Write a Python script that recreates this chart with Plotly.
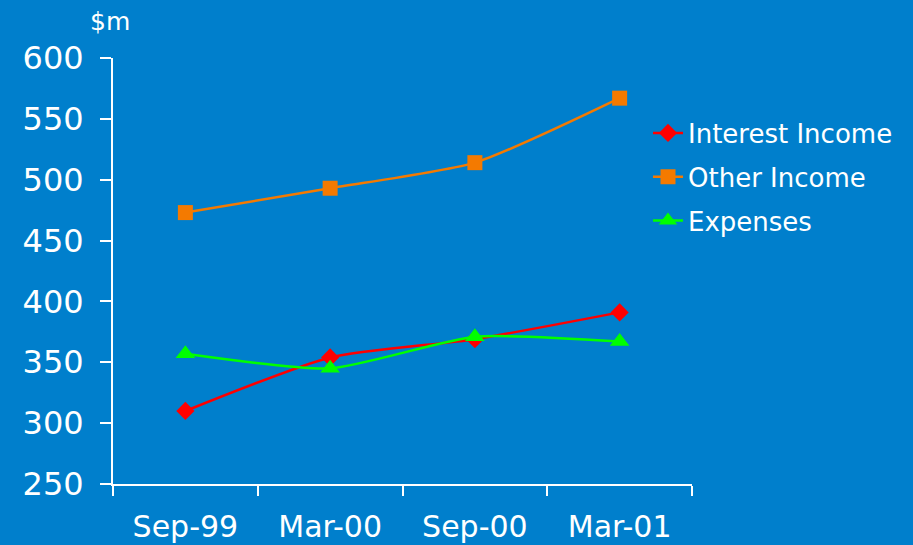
import plotly.graph_objects as go

# Half-yearly results, $m
periods = ["Sep-99", "Mar-00", "Sep-00", "Mar-01"]
interest_income = [310, 354, 369, 391]
other_income = [473, 493, 514, 567]
expenses = [357, 345, 371, 367]

y_ticks = [250, 300, 350, 400, 450, 500, 550, 600]

BG = "#007FCC"
FONT = "DejaVu Sans"

series = [
    ("Interest Income", interest_income, "#FF0000", "diamond", 14),
    ("Other Income", other_income, "#F47A00", "square", 15),
    ("Expenses", expenses, "#00FF00", "triangle-up", 17),
]

fig = go.Figure()
for i, (name, values, color, symbol, size) in enumerate(series):
    fig.add_trace(go.Scatter(
        x=periods, y=values, name=name, mode="lines+markers",
        line=dict(color=color, width=2.5, shape="spline", smoothing=0.6),
        marker=dict(symbol=symbol, size=size, color=color),
        legendgroup=f"g{i}",
    ))

fig.update_layout(
    width=913, height=545,
    margin=dict(l=113, r=221, t=58, b=61),
    paper_bgcolor=BG, plot_bgcolor=BG,
    font=dict(family=FONT, color="white"),
    showlegend=True,
    legend=dict(
        x=0.924, y=0.879, xanchor="left", yanchor="top",
        bgcolor="rgba(0,0,0,0)", font=dict(size=26, color="white", family=FONT),
        tracegroupgap=7, traceorder="grouped",
    ),
    annotations=[dict(
        text="$m", xref="paper", yref="paper", x=-0.005, y=1.085,
        xanchor="center", yanchor="middle", showarrow=False,
        font=dict(size=25, color="white", family=FONT),
    )],
)

fig.update_xaxes(
    type="category", range=[-0.5, 3.5], tickson="boundaries",
    showline=True, linecolor="white", linewidth=2,
    ticks="outside", ticklen=10, tickwidth=2, tickcolor="white",
    tickfont=dict(size=30, color="white", family=FONT),
    showgrid=False, zeroline=False, ticklabelstandoff=15, automargin=False,
)
fig.update_yaxes(
    range=[250, 600], tickvals=y_ticks,
    showline=True, linecolor="white", linewidth=2,
    ticks="outside", ticklen=11, tickwidth=2, tickcolor="white",
    tickfont=dict(size=32, color="white", family=FONT),
    showgrid=False, zeroline=False, ticklabelstandoff=10, automargin=False,
)

fig.write_html("out.html")
